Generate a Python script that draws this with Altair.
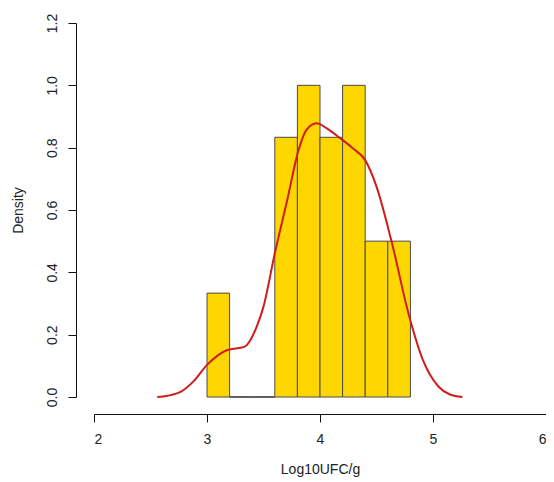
import altair as alt
import pandas as pd

bin_start = [3.0, 3.2, 3.4, 3.6, 3.8, 4.0, 4.2, 4.4, 4.6]
bin_end = [3.2, 3.4, 3.6, 3.8, 4.0, 4.2, 4.4, 4.6, 4.8]
density = [0.3333, 0.0, 0.0, 0.8333, 1.0, 0.8333, 1.0, 0.5, 0.5]

kde_x = [2.56, 2.65, 2.77, 2.88, 3.0, 3.18, 3.33, 3.44, 3.5, 3.60, 3.71, 3.81, 3.88,
         3.97, 4.06, 4.18, 4.29, 4.40, 4.50, 4.63, 4.79, 4.91, 5.05, 5.15, 5.26]
kde_y = [0.0, 0.004, 0.017, 0.05, 0.103, 0.151, 0.161, 0.226, 0.29, 0.461, 0.632, 0.792, 0.857,
         0.878, 0.862, 0.830, 0.798, 0.760, 0.675, 0.504, 0.258, 0.119, 0.033, 0.008, 0.0]

bars = pd.DataFrame({"x": bin_start, "x2": bin_end, "y": density})
kde = pd.DataFrame({"x": kde_x, "y": kde_y})

xscale = alt.Scale(domain=[2, 6], nice=False, zero=False)
yscale = alt.Scale(domain=[0, 1.2], nice=False)

font = "Liberation Sans"
tcol = "#222222"

xaxis = alt.Axis(title="Log10UFC/g", values=[2, 3, 4, 5, 6], format="d", offset=17,
                 grid=False, tickSize=8, labelPadding=10, titlePadding=16,
                 domainColor="#111111", tickColor="#111111")
yaxis = alt.Axis(title="Density", values=[0, 0.2, 0.4, 0.6, 0.8, 1.0, 1.2], format=".1f",
                 offset=18, grid=False, tickSize=8, labelAngle=270, labelAlign="center",
                 labelBaseline="bottom", labelPadding=9, titlePadding=20,
                 domainColor="#111111", tickColor="#111111")

hist = alt.Chart(bars).mark_rect(fill="#FFD700", stroke="#4a4a4a", strokeWidth=1).encode(
    x=alt.X("x:Q", scale=xscale, axis=xaxis),
    x2="x2:Q",
    y=alt.Y("y:Q", scale=yscale, axis=yaxis),
    y2=alt.datum(0),
)

base = alt.Chart(bars).transform_filter("datum.y == 0").mark_rule(color="#4a4a4a", strokeWidth=1).encode(
    x=alt.X("x:Q", scale=xscale),
    x2="x2:Q",
    y=alt.datum(0, scale=yscale),
)

line = alt.Chart(kde).mark_line(color="#D01C1C", strokeWidth=2, interpolate="monotone").encode(
    x=alt.X("x:Q", scale=xscale),
    y=alt.Y("y:Q", scale=yscale),
)

chart = alt.layer(hist, base, line).properties(
    width=452, height=374,
    autosize=alt.AutoSizeParams(type="none"),
    padding={"left": 86, "top": 15, "right": 0, "bottom": 82},
).configure_view(stroke=None).configure_axis(
    labelFont=font, titleFont=font, labelFontSize=14, titleFontSize=14,
    labelColor=tcol, titleColor=tcol, titleFontWeight="normal",
)

chart.save("out.html", embed_options={"renderer": "svg", "actions": False})
